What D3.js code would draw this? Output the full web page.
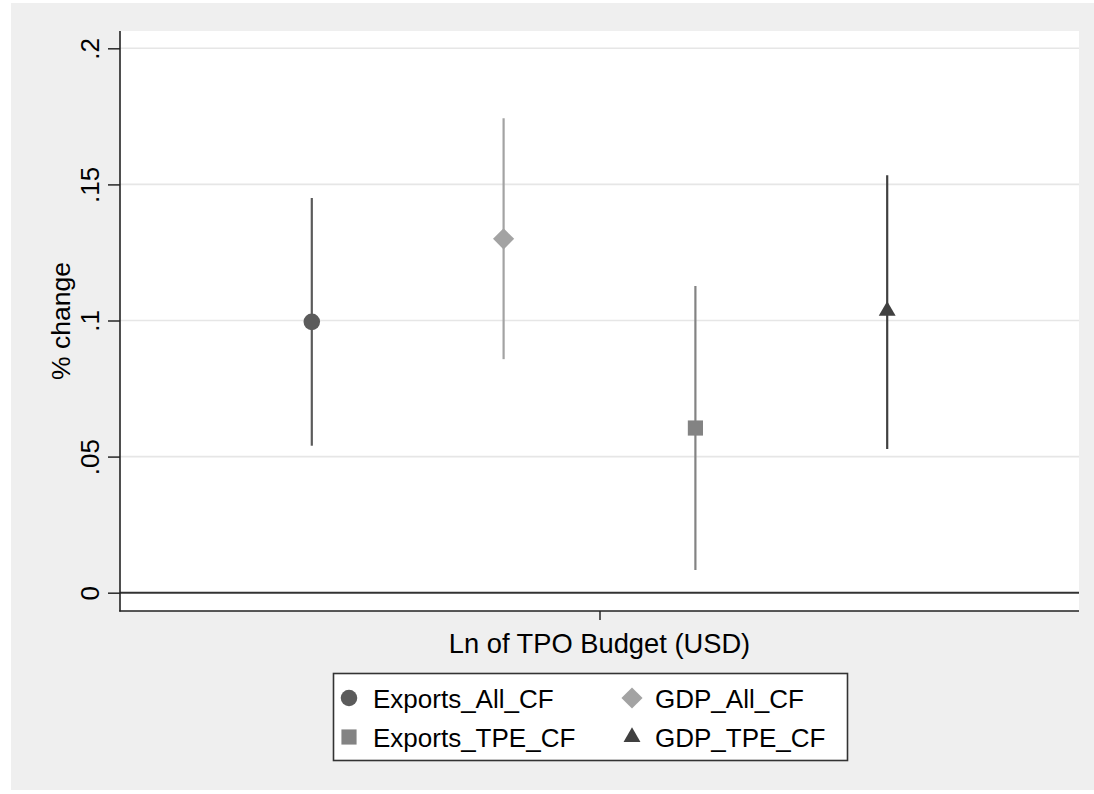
<!DOCTYPE html>
<html>
<head>
<meta charset="utf-8">
<script src="https://cdn.jsdelivr.net/npm/d3@7"></script>
<style>
  html, body { margin: 0; padding: 0; background: #ffffff; }
  svg { display: block; font-family: "Liberation Sans", Arial, sans-serif; }
</style>
</head>
<body>
<svg id="chart" width="1094" height="794"></svg>
<script>
// Coefficient estimates with 95% confidence intervals
const seriesNames = ["Exports_All_CF", "GDP_All_CF", "Exports_TPE_CF", "GDP_TPE_CF"];
const estimates   = [0.0995, 0.1300, 0.0605, 0.1035];
const lowerCI     = [0.0540, 0.0858, 0.0083, 0.0528];
const upperCI     = [0.1450, 0.1743, 0.1127, 0.1534];
const offsets     = [-0.3, -0.1, 0.1, 0.3];
const seriesColors = ["#5b5b5b", "#a3a3a3", "#838383", "#404040"];
const markerShapes = ["circle", "diamond", "square", "triangle"];
const yTicks = [0, 0.05, 0.1, 0.15, 0.2];
const yTickLabels = ["0", ".05", ".1", ".15", ".2"];
const xCategory = "Ln of TPO Budget (USD)";
const yTitle = "% change";

const svg = d3.select("#chart");
const W = 1094, H = 794;
const plot = { left: 120, right: 1079, top: 31, bottom: 611 };

// Graph background
svg.append("rect").attr("x", 11).attr("y", 3).attr("width", W - 11).attr("height", H - 7)
  .attr("fill", "#efefef");
// Plot region
svg.append("rect").attr("x", plot.left).attr("y", plot.top)
  .attr("width", plot.right - plot.left).attr("height", plot.bottom - plot.top)
  .attr("fill", "#ffffff");

const x = d3.scaleLinear().domain([0.5, 1.5]).range([plot.left, plot.right]);
const y = d3.scaleLinear().domain([0, 0.2]).range([592.7, 48.3]);

// Gridlines
svg.append("g").selectAll("line").data(yTicks.filter(d => d > 0)).join("line")
  .attr("x1", plot.left).attr("x2", plot.right)
  .attr("y1", d => y(d)).attr("y2", d => y(d))
  .attr("stroke", "#e6e6e6").attr("stroke-width", 1.6);

// Reference line at zero
svg.append("line").attr("x1", plot.left).attr("x2", plot.right)
  .attr("y1", y(0)).attr("y2", y(0))
  .attr("stroke", "#333333").attr("stroke-width", 2);

// Y axis
const yAxis = d3.axisLeft(y).tickValues(yTicks)
  .tickFormat((d, i) => yTickLabels[i]).tickSize(12).tickPadding(0);
const gy = svg.append("g").attr("transform", `translate(${plot.left},0)`).call(yAxis);
gy.select(".domain").remove();
gy.selectAll(".tick line").attr("stroke", "#333333").attr("stroke-width", 1.6);
gy.selectAll(".tick text")
  .attr("font-size", 26).attr("fill", "#000")
  .attr("text-anchor", "middle")
  .attr("x", 0).attr("dy", 0)
  .attr("transform", "translate(-21,0) rotate(-90)");
svg.append("line").attr("x1", plot.left).attr("x2", plot.left)
  .attr("y1", plot.top).attr("y2", plot.bottom + 0.5)
  .attr("stroke", "#222222").attr("stroke-width", 1.6);

// X axis
const xAxis = d3.axisBottom(x).tickValues([1]).tickFormat(() => "").tickSize(9);
const gx = svg.append("g").attr("transform", `translate(0,${plot.bottom})`).call(xAxis);
gx.select(".domain").remove();
gx.selectAll(".tick line").attr("stroke", "#333333").attr("stroke-width", 1.6);
svg.append("line").attr("x1", plot.left - 0.8).attr("x2", plot.right)
  .attr("y1", plot.bottom).attr("y2", plot.bottom)
  .attr("stroke", "#222222").attr("stroke-width", 1.6);

// Axis titles
svg.append("text").attr("x", x(1)).attr("y", 653)
  .attr("text-anchor", "middle").attr("font-size", 27.3).attr("fill", "#000")
  .text(xCategory);
svg.append("text")
  .attr("transform", `translate(70,${(plot.top + plot.bottom) / 2}) rotate(-90)`)
  .attr("text-anchor", "middle").attr("font-size", 26.5).attr("fill", "#000")
  .text(yTitle);

// Marker symbols (shared by plot and legend)
const symbolFor = {
  circle:   d3.symbol().type(d3.symbolCircle).size(215),
  diamond:  d3.symbol().type(d3.symbolDiamond2).size(285),
  square:   d3.symbol().type(d3.symbolSquare).size(230),
  triangle: d3.symbol().type(d3.symbolTriangle2).size(205)
};

const data = seriesNames.map((name, i) => ({
  name, est: estimates[i], lo: lowerCI[i], hi: upperCI[i],
  pos: 1 + offsets[i], color: seriesColors[i], shape: markerShapes[i]
}));

const g = svg.append("g");
// Confidence interval spikes
g.selectAll("line.ci").data(data).join("line").attr("class", "ci")
  .attr("x1", d => x(d.pos)).attr("x2", d => x(d.pos))
  .attr("y1", d => y(d.lo)).attr("y2", d => y(d.hi))
  .attr("stroke", d => d.color).attr("stroke-width", 2.2);
// Point estimates
g.selectAll("path.pt").data(data).join("path").attr("class", "pt")
  .attr("transform", d => `translate(${x(d.pos)},${y(d.est)})`)
  .attr("d", d => symbolFor[d.shape]())
  .attr("fill", d => d.color);

// Legend
const legend = svg.append("g");
legend.append("rect").attr("x", 333.5).attr("y", 673.5).attr("width", 514).attr("height", 87)
  .attr("fill", "#ffffff").attr("stroke", "#333333").attr("stroke-width", 1.6);
const legendPos = [
  { mx: 349, tx: 373, cy: 698 },
  { mx: 632, tx: 655, cy: 698 },
  { mx: 349, tx: 373, cy: 737 },
  { mx: 632, tx: 655, cy: 737 }
];
data.forEach((d, i) => {
  const p = legendPos[i];
  legend.append("path").attr("transform", `translate(${p.mx},${p.cy})`)
    .attr("d", symbolFor[d.shape]()).attr("fill", d.color);
  legend.append("text").attr("x", p.tx).attr("y", p.cy + 10)
    .attr("font-size", 26).attr("fill", "#000").text(d.name);
});
</script>
</body>
</html>
